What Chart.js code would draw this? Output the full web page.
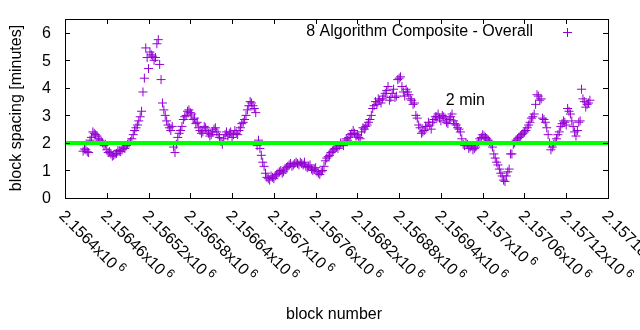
<!DOCTYPE html>
<html lang="en">
<head>
    <meta charset="UTF-8">
    <title>block spacing</title>
    <script src="https://cdn.jsdelivr.net/npm/chart.js"></script>
    <style>
        body {
            margin: 0;
            background-color: #ffffff;
        }
        #chart {
            display: block;
        }
    </style>
</head>
<body>

<canvas id="chart" width="640" height="330"></canvas>

<script>
// datos: un punto cada 4 bloques
const firstBlock = 2156426;
const blockStep = 4;
const spacing = [
    1.70, 1.75, 1.65, 2.20, 2.35, 2.25, 2.10, 2.00, 1.95, 1.65,
    1.60, 1.55, 1.62, 1.70, 1.75, 1.80, 1.95, 2.05, 2.30, 2.55,
    2.80, 3.15, 4.35, 5.10, 5.30, 5.15, 5.10, 5.75, 4.30, 3.20,
    2.80, 2.55, 2.60, 1.65, 2.20, 2.45, 2.85, 3.00, 3.20, 3.05,
    2.90, 2.75, 2.45, 2.40, 2.55, 2.35, 2.30, 2.50, 2.40, 2.20,
    1.95, 2.30, 2.25, 2.40, 2.30, 2.35, 2.45, 2.70, 2.85, 3.20,
    3.50, 3.35, 3.10, 2.10, 1.55, 1.15, 0.75, 0.65, 0.75, 0.80,
    0.90, 1.00, 0.95, 1.10, 1.20, 1.15, 1.25, 1.25, 1.30, 1.20,
    1.15, 1.15, 1.05, 1.05, 0.95, 0.85, 1.00, 1.35, 1.50, 1.65,
    1.75, 1.85, 1.90, 1.95, 2.05, 2.10, 2.30, 2.45, 2.25, 2.20,
    2.40, 2.50, 2.65, 2.85, 3.25, 3.50, 3.60, 3.45, 3.70, 3.90,
    3.55, 3.80, 3.65, 4.30, 4.40, 3.85, 3.95, 3.75, 3.55, 3.45,
    2.90, 2.55, 2.40, 2.60, 2.75, 2.50, 2.85, 2.95, 2.90, 3.00,
    2.90, 2.70, 2.95, 2.80, 2.65, 2.50, 2.15, 1.90, 1.95, 1.85,
    1.75, 1.85, 2.05, 2.20, 2.25, 2.15, 2.05, 1.85, 1.45, 1.20,
    0.90, 0.65, 0.80, 1.05, 1.60, 2.00, 2.15, 2.25, 2.35, 2.45,
    2.65, 2.90, 3.05, 3.75, 3.55, 2.90, 2.75, 2.30, 1.75, 1.95,
    2.15, 2.40, 2.70, 2.75, 3.25, 3.05, 2.60, 2.25, 2.75, 3.95,
    3.50, 3.40, 3.55
];
// bloques intermedios (firstBlock + 2 + i * 4)
const spacingMid = [
    1.78, 1.68, 2.10, 2.40, 2.30, 2.15, 2.05, 1.90, 1.75, 1.68,
    1.52, 1.60, 1.72, 1.68, 1.85, 1.90, 2.00, 2.15, 2.45, 2.65,
    2.95, 3.85, 5.45, 4.70, 5.20, 5.00, 5.60, 4.85, 3.45, 3.00,
    2.65, 2.45, 1.85, 1.95, 2.35, 2.60, 2.95, 3.15, 3.10, 2.85,
    2.70, 2.55, 2.35, 2.60, 2.45, 2.25, 2.40, 2.55, 2.30, 2.05,
    2.15, 2.40, 2.35, 2.20, 2.45, 2.30, 2.55, 2.75, 3.00, 3.35,
    3.45, 3.25, 1.90, 1.80, 1.30, 0.90, 0.70, 0.80, 0.70, 0.85,
    0.95, 0.90, 1.05, 1.15, 1.25, 1.20, 1.30, 1.20, 1.25, 1.30,
    1.10, 1.20, 1.00, 1.10, 0.90, 0.95, 1.15, 1.45, 1.55, 1.70,
    1.80, 1.80, 2.00, 1.90, 2.15, 2.20, 2.35, 2.35, 2.30, 2.15,
    2.55, 2.60, 2.75, 3.00, 3.35, 3.40, 3.55, 3.60, 3.80, 4.05,
    3.65, 3.95, 3.70, 4.35, 4.05, 3.70, 3.85, 3.60, 3.40, 3.00,
    2.65, 2.35, 2.45, 2.60, 2.65, 2.75, 2.95, 3.05, 2.80, 2.95,
    2.75, 2.85, 3.05, 2.70, 2.55, 2.40, 1.95, 2.00, 1.80, 1.90,
    1.80, 1.95, 2.15, 2.30, 2.20, 2.10, 1.95, 1.60, 1.30, 1.05,
    0.80, 0.60, 0.95, 1.60, 1.95, 2.10, 2.20, 2.30, 2.40, 2.55,
    2.75, 2.95, 3.40, 3.70, 3.60, 2.85, 2.55, 2.00, 1.85, 2.05,
    2.30, 2.60, 2.80, 2.65, 3.15, 2.80, 2.40, 2.45, 2.80, 3.60,
    3.30, 3.45
];

const targetLine = [2, 2];
const xMin = 2156400;
const xMax = 2157180;
const xTicks = [2156400, 2156460, 2156520, 2156580, 2156640, 2156700, 2156760,
    2156820, 2156880, 2156940, 2157000, 2157060, 2157120, 2157180];
const yTicks = [0, 1, 2, 3, 4, 5, 6];

const seriesName = '8 Algorithm Composite - Overall';
const xTitle = 'block number';
const yTitle = 'block spacing [minutes]';
const noteText = '2 min';
const notePos = { x: 2156947, y: 3.53 };

const FONT = '16px "Liberation Sans", Arial, sans-serif';
const PURPLE = '#9400d3';

const puntos = [];
spacing.forEach((v, i) => puntos.push({ x: firstBlock + i * blockStep, y: v }));
spacingMid.forEach((v, i) => puntos.push({ x: firstBlock + 2 + i * blockStep, y: v }));

function tickLabel(v) {
    return String(+(v / 1e6).toFixed(6));
}

// ejes al estilo gnuplot: marcas hacia dentro, etiquetas giradas
const gnuplotAxes = {
    id: 'gnuplotAxes',
    afterDraw(chart) {
        const ctx = chart.ctx;
        const area = chart.chartArea;
        const xs = chart.scales.x;
        const ys = chart.scales.y;

        ctx.save();
        ctx.strokeStyle = '#000';
        ctx.lineWidth = 1;
        ctx.strokeRect(Math.round(area.left) + 0.5, Math.round(area.top) + 0.5,
            Math.round(area.right - area.left), Math.round(area.bottom - area.top));

        ctx.beginPath();
        yTicks.forEach(t => {
            const py = Math.round(ys.getPixelForValue(t)) + 0.5;
            ctx.moveTo(area.left, py); ctx.lineTo(area.left + 5, py);
            ctx.moveTo(area.right, py); ctx.lineTo(area.right - 5, py);
        });
        xTicks.forEach(t => {
            const px = Math.round(xs.getPixelForValue(t)) + 0.5;
            ctx.moveTo(px, area.bottom); ctx.lineTo(px, area.bottom - 5);
            ctx.moveTo(px, area.top); ctx.lineTo(px, area.top + 5);
        });
        ctx.stroke();

        ctx.fillStyle = '#000';
        ctx.font = FONT;
        ctx.textAlign = 'right';
        ctx.textBaseline = 'middle';
        yTicks.forEach(t => {
            ctx.fillText(String(t), area.left - 14, ys.getPixelForValue(t) + 1);
        });

        // etiquetas del eje x giradas 45 grados
        xTicks.forEach(t => {
            const px = xs.getPixelForValue(t);
            ctx.save();
            ctx.translate(px + 2, area.bottom + 10);
            ctx.rotate(Math.PI / 4);
            ctx.textAlign = 'left';
            ctx.textBaseline = 'top';
            ctx.font = FONT;
            const txt = tickLabel(t) + 'x10';
            ctx.fillText(txt, 0, 0);
            const w = ctx.measureText(txt).width;
            ctx.font = '12px "Liberation Sans", Arial, sans-serif';
            ctx.fillText('6', w + 3, -3);
            ctx.restore();
        });

        ctx.font = FONT;
        ctx.textAlign = 'center';
        ctx.textBaseline = 'middle';
        ctx.fillText(xTitle, 334, 315);

        ctx.save();
        ctx.translate(17, 108);
        ctx.rotate(-Math.PI / 2);
        ctx.fillText(yTitle, 0, 0);
        ctx.restore();

        // leyenda
        ctx.textAlign = 'right';
        ctx.fillText(seriesName, 533, 32);
        ctx.strokeStyle = PURPLE;
        ctx.beginPath();
        ctx.moveTo(563, 32.5); ctx.lineTo(572, 32.5);
        ctx.moveTo(567.5, 28); ctx.lineTo(567.5, 37);
        ctx.stroke();

        // etiqueta "2 min"
        ctx.fillStyle = '#000';
        ctx.textAlign = 'left';
        ctx.fillText(noteText, xs.getPixelForValue(notePos.x), ys.getPixelForValue(notePos.y));
        ctx.restore();
    }
};

new Chart(document.getElementById('chart').getContext('2d'), {
    type: 'scatter',
    data: {
        datasets: [
            {
                type: 'line',
                label: '2 min',
                data: [{ x: xMin, y: targetLine[0] }, { x: xMax, y: targetLine[1] }],
                borderColor: '#00ff00',
                borderWidth: 4,
                pointRadius: 0,
                order: 0
            },
            {
                label: seriesName,
                data: puntos,
                pointStyle: 'cross',
                pointRadius: 4.5,
                borderColor: PURPLE,
                backgroundColor: PURPLE,
                pointBorderWidth: 1,
                order: 1
            }
        ]
    },
    options: {
        responsive: false,
        animation: false,
        layout: {
            padding: { left: 65, right: 32, top: 19, bottom: 132 }
        },
        plugins: {
            legend: { display: false },
            tooltip: { enabled: false }
        },
        scales: {
            x: { type: 'linear', min: xMin, max: xMax, display: false },
            y: { min: 0, max: 6.5, display: false }
        }
    },
    plugins: [gnuplotAxes]
});
</script>

</body>
</html>
